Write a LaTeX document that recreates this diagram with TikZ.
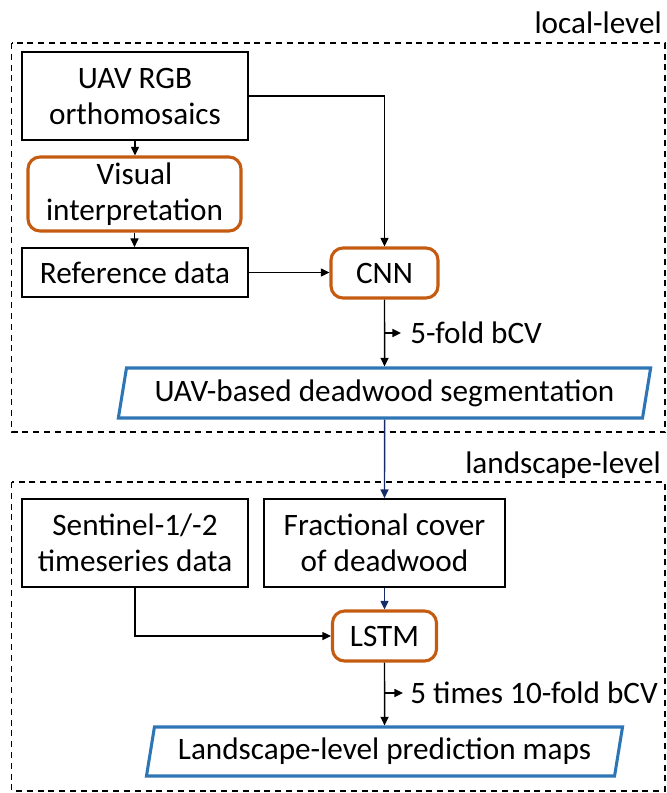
\documentclass[tikz,border=0pt]{standalone}
\usepackage{fontspec}
\setmainfont{Carlito}
\usetikzlibrary{arrows.meta,shapes.geometric}
\definecolor{boxorange}{HTML}{C55A11}
\definecolor{boxblue}{HTML}{2E75B6}
\definecolor{navyline}{HTML}{142C6A}
\newcommand{\fs}{\fontsize{23.4pt}{27pt}\selectfont}
\tikzset{
  sz/.style 2 args={minimum width=#1*0.75pt, minimum height=#2*0.75pt},
  plainbox/.style={draw=black, line width=1.3pt, inner sep=0pt, align=center, font=\fs},
  modelbox/.style={draw=boxorange, line width=2.3pt, rounded corners=9pt, inner sep=0pt, align=center, font=\fs},
  outbox/.style={draw=boxblue, line width=2.3pt, trapezium, trapezium left angle=75, trapezium right angle=105, trapezium stretches=true, inner sep=0pt, font=\fs},
  conn/.style={draw=black, line width=1.1pt, -{Triangle[length=6.5pt,width=6pt]}},
  navyconn/.style={draw=navyline, line width=1.1pt, -{Triangle[length=6.5pt,width=6pt]}},
  levelbox/.style={draw=black, line width=1.1pt, dash pattern=on 4.5pt off 3.6pt},
  lbl/.style={font=\fs, inner sep=0pt}
}
\begin{document}
\begin{tikzpicture}[x=0.75pt,y=-0.75pt]
\useasboundingbox (0,0) rectangle (667,793);
% level frames
\draw[levelbox] (11.7,43) rectangle (665,432);
\draw[levelbox] (11.7,482) rectangle (665,791);
\node[lbl, anchor=base east] (loclab) at (662,33) {local-level};
\node[lbl, anchor=base east] (landlab) at (661,473) {landscape-level};
% local level nodes
\node[plainbox, sz={226}{88}] (uav) at (135,96) {UAV RGB\\orthomosaics};
\node[modelbox, sz={213}{74}] (vis) at (134.5,194) {Visual\\interpretation};
\node[plainbox, sz={226}{49}] (ref) at (135,272.5) {Reference data};
\node[modelbox, sz={107}{50}] (cnn) at (384.5,273) {CNN};
\node[outbox, sz={533}{50}] (seg) at (384.5,393) {UAV-based deadwood segmentation};
% landscape level nodes
\node[plainbox, sz={226}{88}] (sen) at (135,543) {Sentinel-1/-2\\timeseries data};
\node[plainbox, sz={241}{88}] (frac) at (384.5,543) {Fractional cover\\of deadwood};
\node[modelbox, sz={104}{50}] (lstm) at (384.5,636) {LSTM};
\node[outbox, sz={477}{49}] (map) at (384.5,751.5) {Landscape-level prediction maps};
% connectors local
\draw[conn] (uav.east) -| (cnn.north);
\draw[conn] (uav.south) -- (uav.south |- vis.north);
\draw[conn] (vis.south) -- (vis.south |- ref.north);
\draw[conn] (ref.east) -- (ref.east -| cnn.west);
\draw[conn] (cnn.south) -- (seg.north);
\coordinate (b1) at (384.5,333);
\coordinate (b1e) at (401,333);
\draw[conn] (b1) -- (b1e);
\node[lbl, anchor=base west] (cv1) at (410,343) {5-fold bCV};
% connectors landscape
\draw[navyconn] (seg.south) -- (frac.north);
\draw[navyconn] (frac.south) -- (lstm.north);
\draw[conn] (sen.south) |- (lstm.west);
\draw[conn] (lstm.south) -- (map.north);
\coordinate (b2) at (384.5,693);
\coordinate (b2e) at (403,693);
\draw[conn] (b2) -- (b2e);
\node[lbl, anchor=base west] (cv2) at (410,703) {5 times 10-fold bCV};
\end{tikzpicture}
\end{document}
